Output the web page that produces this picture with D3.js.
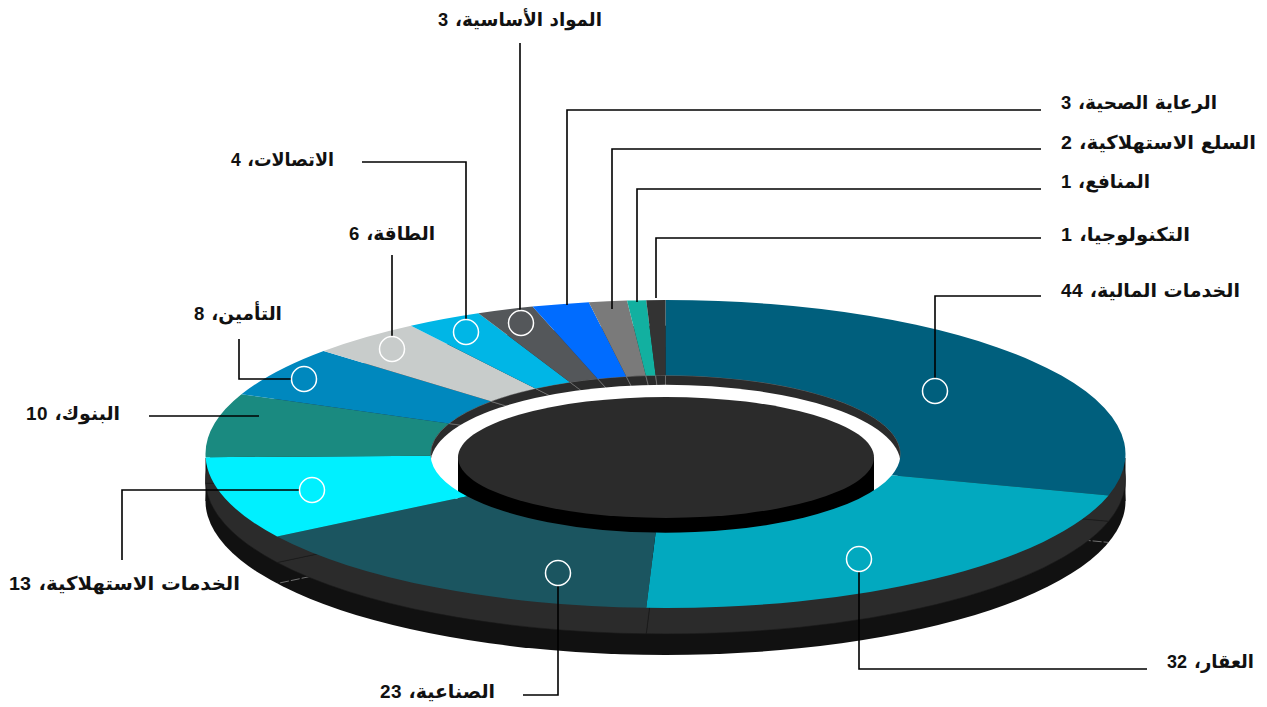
<!DOCTYPE html>
<html lang="ar">
<head>
<meta charset="UTF-8">
<title>Sectors</title>
<script src="https://d3js.org/d3.v7.min.js"></script>
<style>
    @font-face { font-family: "Digits"; src: local("Liberation Sans Bold"); font-weight: 700; unicode-range: U+30-39; }
    html, body { margin: 0; padding: 0; background: #fff; overflow: hidden; }
    text { font-family: "Digits", "DejaVu Sans", sans-serif; font-weight: 700; fill: #111; direction: rtl; }
</style>
</head>
<body>
<div id="chart"></div>
<script>
    // Slices clockwise from 12 o'clock
    const categories = ["الخدمات المالية", "العقار", "الصناعية", "الخدمات الاستهلاكية", "البنوك", "التأمين", "الطاقة", "الاتصالات", "المواد الأساسية", "الرعاية الصحية", "السلع الاستهلاكية", "المنافع", "التكنولوجيا"];
    const values = [44, 32, 23, 13, 10, 8, 6, 4, 3, 3, 2, 1, 1];
    const colors = ["#005f7d", "#02a9bf", "#1b5560", "#00f0ff", "#1a8a80", "#0088be", "#c8cccb", "#00b6e6", "#54575a", "#006cff", "#7a7a7a", "#12b0a0", "#333333"];

    // Annotation layout: right edge, width and baseline of each label
    const labelX = [1240, 1254, 495, 240, 120, 282, 435, 334, 602, 1217, 1256, 1150, 1190];
    const labelW = [179, 87, 115, 231, 94, 88, 86, 103, 164, 156, 195, 89, 129];
    const labelY = [297, 668, 698, 590, 420, 320, 240, 166, 26, 109, 149, 188, 241];
    // Leader polylines, first point sits on the slice
    const leaders = [
        [[935, 378], [935, 296], [1041, 296]],
        [[859, 572], [859, 669], [1147, 669]],
        [[558, 586], [558, 695], [523, 695]],
        [[299, 490], [122, 490], [122, 560]],
        [[259, 416], [149, 416]],
        [[291, 379], [239, 379], [239, 339]],
        [[392, 336], [392, 255]],
        [[466, 319], [466, 162], [362, 162]],
        [[520, 310], [520, 43]],
        [[567, 305], [567, 110], [1041, 110]],
        [[612, 309], [612, 149], [1041, 149]],
        [[637, 302], [637, 189], [1041, 189]],
        [[656, 298], [656, 238], [1041, 238]]
    ];
    // Ring markers, null where the leader has none
    const markers = [[935, 391], [859, 559], [558, 573], [312, 490], null, [304, 379], [392, 349], [466, 332], [521, 323], null, null, null, null];
    // Slices whose seam still shows on the bottom plate
    const bottomSeams = [0, 2];

    const width = 1267, height = 707;
    const cx = 665.5, topY = 454;
    const outerR = 460, innerR = 235;
    const squash = 154 / 460;

    const svg = d3.select("#chart").append("svg")
        .attr("width", width)
        .attr("height", height)
        .style("display", "block");

    const pie = d3.pie().sort(null).value(d => d);
    const slices = pie(values);

    function layer(y, inner, outer, fill, stroke) {
        const arc = d3.arc().innerRadius(inner).outerRadius(outer);
        return svg.append("g")
            .attr("transform", `translate(${cx},${y}) scale(1,${squash})`)
            .selectAll("path")
            .data(slices)
            .join("path")
            .attr("d", arc)
            .attr("fill", typeof fill === "function" ? (d, i) => fill(i) : fill)
            .attr("stroke", stroke)
            .attr("stroke-width", stroke === "none" ? null : 0.6)
            .attr("vector-effect", "non-scaling-stroke");
    }

    // Lower plates
    svg.append("rect").attr("x", cx - outerR).attr("y", 458).attr("width", outerR * 2).attr("height", 43).attr("fill", "#111");
    svg.append("ellipse").attr("cx", cx).attr("cy", 501).attr("rx", outerR).attr("ry", outerR * squash).attr("fill", "#111");
    svg.append("g")
        .attr("transform", `translate(${cx},501) scale(1,${squash})`)
        .selectAll("path")
        .data(bottomSeams)
        .join("path")
        .attr("d", i => d3.line()([[0, 0], d3.pointRadial(slices[i].endAngle, outerR)]))
        .attr("stroke", "#999")
        .attr("stroke-width", 0.7)
        .attr("stroke-dasharray", "9 2")
        .attr("vector-effect", "non-scaling-stroke");
    layer(480, 0, outerR, "#2b2b2b", "#191919");

    // Inner wall of the hole and the white gap
    layer(topY, 0, innerR, "#2b2b2b", "#8a8a8a");
    svg.append("ellipse").attr("cx", cx).attr("cy", 463.5).attr("rx", innerR).attr("ry", innerR * squash).attr("fill", "#fff");

    // Centre cylinder, the slices cover its lower part
    svg.append("rect").attr("x", 458).attr("y", 457.5).attr("width", 416).attr("height", 40).attr("fill", "#000");
    svg.append("ellipse").attr("cx", 666).attr("cy", 497.5).attr("rx", 208).attr("ry", 60.5).attr("fill", "#000");
    svg.append("ellipse").attr("cx", 666).attr("cy", 457.5).attr("rx", 208).attr("ry", 60.5).attr("fill", "#2b2b2b");

    // Top face
    layer(topY, innerR, outerR, i => colors[i], "none");

    // Leaders
    const line = d3.line();
    svg.append("g").selectAll("path")
        .data(leaders)
        .join("path")
        .attr("d", line)
        .attr("fill", "none")
        .attr("stroke", "#000")
        .attr("stroke-width", 1.6);

    svg.append("g").selectAll("circle")
        .data(markers.filter(m => m))
        .join("circle")
        .attr("cx", d => d[0])
        .attr("cy", d => d[1])
        .attr("r", 12.5)
        .attr("fill", "none")
        .attr("stroke", "#fff")
        .attr("stroke-width", 1.5);

    // Labels, stretched to the width they have in the picture
    svg.append("g").selectAll("text")
        .data(categories)
        .join("text")
        .attr("x", (d, i) => labelX[i])
        .attr("y", (d, i) => labelY[i])
        .attr("font-size", 19)
        .attr("textLength", (d, i) => labelW[i])
        .attr("lengthAdjust", "spacingAndGlyphs")
        .text((d, i) => `${d}، ${values[i]}`);
</script>
</body>
</html>
